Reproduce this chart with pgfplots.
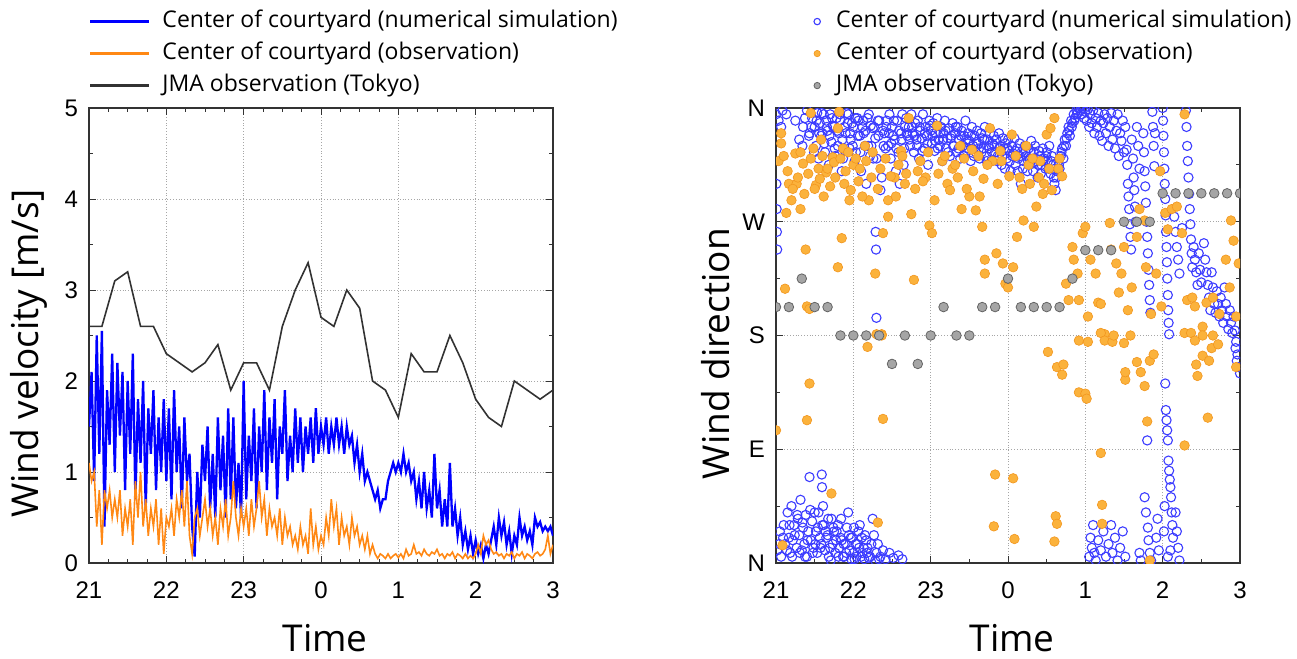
\documentclass[border=0pt]{standalone}
\usepackage{pgfplots}
\pgfplotsset{compat=1.18}
\usepackage{fontspec}
\setmainfont{Liberation Sans}
\newfontfamily\labelfont{Open Sans}

\definecolor{simblue}{RGB}{0,0,255}
\definecolor{obsorange}{RGB}{255,136,20}
\definecolor{jmagray}{RGB}{50,50,50}
\definecolor{dirblue}{RGB}{60,60,255}
\definecolor{dirorange}{RGB}{251,178,60}
\definecolor{dirorangeedge}{RGB}{242,150,30}
\definecolor{dirgray}{RGB}{165,165,165}
\definecolor{dirgrayedge}{RGB}{100,100,100}

\pgfplotsset{
  panel/.style={
    scale only axis, width=232pt, height=227.5pt, anchor=south west,
    xmin=0, xmax=360, xtick={0,60,...,360}, xticklabels={21,22,23,0,1,2,3},
    tick align=inside, major tick length=3.5pt, minor tick length=2pt,
    grid=major, major grid style={densely dotted, black!35, line width=0.5pt},
    axis line style={line width=0.7pt, black!80},
    every tick/.style={black!80, line width=0.5pt},
    /pgf/number format/assume math mode=true,
    tick label style={font=\fontsize{12}{12}\selectfont},
    xticklabel style={yshift=-6pt},
    yticklabel style={xshift=-2pt},
    xlabel={Time},
    every axis x label/.style={at={(axis description cs:0.509,-0.165)}, anchor=center,
      font=\labelfont\fontsize{18.5}{18.5}\selectfont},
    every axis y label/.style={at={(axis description cs:-0.13,0.46)}, rotate=90, anchor=center,
      font=\labelfont\fontsize{18.5}{18.5}\selectfont},
    legend style={draw=none, fill=none, anchor=north west, inner sep=0pt,
      font=\labelfont\fontsize{11.5}{11.5}\selectfont, row sep=5pt,
      nodes={inner sep=0pt, text height=8.5pt, text depth=2.5pt}},
    legend cell align=left,
  },
}

\begin{document}
\begin{tikzpicture}
\path[use as bounding box] (0,0) rectangle (648.5pt,329.5pt);

% left panel: wind velocity
\begin{axis}[panel, at={(44.5pt,48pt)},
  ymin=0, ymax=5, ytick={0,1,...,5}, minor x tick num=3, minor y tick num=1,
  ylabel={Wind velocity [m/s]},
  legend style={at={(axis description cs:0.0,1.215)}},
  legend image code/.code={\draw[#1, line width=1.1pt] (0pt,0pt) -- (29pt,0pt);
    \path[draw=none, fill=none] (0pt,0pt) -- (36pt,0pt);},
]
\addplot[simblue, line width=1.15pt] table[row sep=\\] {
x y\\
0 1.5\\ 2 2.1\\ 4 0.9\\ 6 2.5\\ 8 1.2\\ 10 2.55\\ 12 0.4\\ 14 1.9\\ 16 1.3\\ 18 2.3\\
20 1.0\\ 22 2.2\\ 24 1.4\\ 26 2.1\\ 28 0.8\\ 30 2.0\\ 32 1.2\\ 34 2.3\\ 36 0.7\\ 38 1.8\\
40 1.1\\ 42 2.0\\ 44 0.6\\ 46 1.7\\ 48 1.2\\ 50 1.9\\ 52 0.8\\ 54 1.6\\ 56 1.0\\ 58 1.8\\
60 0.9\\ 62 1.7\\ 64 0.7\\ 66 1.9\\ 68 1.0\\ 70 1.5\\ 72 0.6\\ 74 1.6\\ 76 0.9\\ 78 1.2\\
80 0.4\\ 82 0.07\\ 84 1.0\\ 86 0.5\\ 88 1.3\\ 90 0.9\\ 92 1.5\\ 94 0.6\\ 96 1.2\\ 98 0.5\\
100 1.6\\ 102 0.8\\ 104 1.4\\ 106 0.5\\ 108 1.7\\ 110 0.7\\ 112 1.6\\ 114 0.6\\ 116 1.1\\ 118 0.5\\
120 2.0\\ 122 0.7\\ 124 1.4\\ 126 0.9\\ 128 1.7\\ 130 0.6\\ 132 1.5\\ 134 1.0\\ 136 1.9\\ 138 0.8\\
140 1.6\\ 142 1.1\\ 144 1.8\\ 146 0.7\\ 148 1.5\\ 150 1.2\\ 152 1.9\\ 154 0.9\\ 156 1.4\\ 158 1.0\\
160 1.7\\ 162 1.1\\ 164 1.6\\ 166 1.0\\ 168 1.5\\ 170 1.2\\ 172 1.6\\ 174 1.1\\ 176 1.7\\ 178 1.2\\
180 1.5\\ 182 1.3\\ 184 1.6\\ 186 1.2\\ 188 1.5\\ 190 1.3\\ 192 1.6\\ 194 1.3\\ 196 1.5\\ 198 1.2\\
200 1.5\\ 202 1.3\\ 204 1.4\\ 206 1.1\\ 208 1.3\\ 210 1.0\\ 212 1.2\\ 214 0.9\\ 216 1.0\\ 218 0.9\\
220 0.8\\ 222 0.7\\ 224 0.8\\ 226 0.6\\ 228 0.7\\ 230 0.7\\ 232 0.9\\ 234 1.0\\ 236 1.1\\ 238 1.0\\
240 1.1\\ 242 1.0\\ 244 1.2\\ 246 1.0\\ 248 1.1\\ 250 0.9\\ 252 1.0\\ 254 0.7\\ 256 0.9\\ 258 0.6\\
260 1.0\\ 262 0.6\\ 264 0.8\\ 266 0.5\\ 268 1.2\\ 270 0.6\\ 272 0.8\\ 274 0.4\\ 276 0.7\\ 278 0.4\\
280 1.1\\ 282 0.4\\ 284 0.6\\ 286 0.3\\ 288 0.5\\ 290 0.2\\ 292 0.35\\ 294 0.15\\ 296 0.3\\ 298 0.1\\
300 0.25\\ 302 0.1\\ 304 0.2\\ 306 0.05\\ 308 0.2\\ 310 0.1\\ 312 0.25\\ 314 0.4\\ 316 0.2\\ 318 0.5\\
320 0.3\\ 322 0.45\\ 324 0.2\\ 326 0.35\\ 328 0.1\\ 330 0.3\\ 332 0.2\\ 334 0.5\\ 336 0.3\\ 338 0.4\\
340 0.25\\ 342 0.35\\ 344 0.2\\ 346 0.5\\ 348 0.4\\ 350 0.45\\ 352 0.35\\ 354 0.4\\ 356 0.35\\ 358 0.4\\
360 0.3\\
};
\addlegendentry{Center of courtyard (numerical simulation)}
\addplot[obsorange, line width=0.8pt] table[row sep=\\] {
x y\\
0 1.1\\ 2 0.9\\ 4 1.0\\ 6 0.4\\ 8 0.8\\ 10 0.2\\ 12 0.8\\ 14 0.6\\ 16 0.8\\ 18 0.5\\
20 0.7\\ 22 0.5\\ 24 0.8\\ 26 0.3\\ 28 0.6\\ 30 0.4\\ 32 0.7\\ 34 0.2\\ 36 0.9\\ 38 0.5\\
40 1.0\\ 42 0.4\\ 44 0.7\\ 46 0.3\\ 48 0.6\\ 50 0.4\\ 52 0.7\\ 54 0.2\\ 56 0.6\\ 58 0.1\\
60 0.5\\ 62 0.4\\ 64 0.6\\ 66 0.3\\ 68 0.7\\ 70 0.5\\ 72 0.8\\ 74 0.4\\ 76 0.9\\ 78 0.3\\
80 0.1\\ 82 0.5\\ 84 0.6\\ 86 0.3\\ 88 0.5\\ 90 0.7\\ 92 0.4\\ 94 0.6\\ 96 0.3\\ 98 0.5\\
100 0.2\\ 102 0.6\\ 104 0.4\\ 106 0.7\\ 108 0.3\\ 110 0.5\\ 112 0.9\\ 114 0.5\\ 116 0.3\\ 118 0.6\\
120 0.4\\ 122 0.6\\ 124 0.3\\ 126 0.7\\ 128 0.4\\ 130 0.6\\ 132 0.9\\ 134 0.5\\ 136 0.7\\ 138 0.3\\
140 0.6\\ 142 0.4\\ 144 0.5\\ 146 0.3\\ 148 0.6\\ 150 0.2\\ 152 0.5\\ 154 0.3\\ 156 0.4\\ 158 0.2\\
160 0.3\\ 162 0.15\\ 164 0.4\\ 166 0.2\\ 168 0.3\\ 170 0.1\\ 172 0.6\\ 174 0.2\\ 176 0.4\\ 178 0.15\\
180 0.3\\ 182 0.2\\ 184 0.5\\ 186 0.3\\ 188 0.7\\ 190 0.4\\ 192 0.6\\ 194 0.2\\ 196 0.5\\ 198 0.3\\
200 0.4\\ 202 0.2\\ 204 0.5\\ 206 0.3\\ 208 0.4\\ 210 0.2\\ 212 0.3\\ 214 0.15\\ 216 0.3\\ 218 0.1\\
220 0.2\\ 222 0.1\\ 224 0.05\\ 226 0.1\\ 228 0.08\\ 230 0.05\\ 232 0.1\\ 234 0.05\\ 236 0.08\\ 238 0.1\\
240 0.06\\ 242 0.1\\ 244 0.05\\ 246 0.15\\ 248 0.08\\ 250 0.1\\ 252 0.2\\ 254 0.1\\ 256 0.12\\ 258 0.08\\
260 0.15\\ 262 0.1\\ 264 0.08\\ 266 0.12\\ 268 0.1\\ 270 0.15\\ 272 0.08\\ 274 0.1\\ 276 0.05\\ 278 0.1\\
280 0.08\\ 282 0.12\\ 284 0.05\\ 286 0.1\\ 288 0.08\\ 290 0.05\\ 292 0.1\\ 294 0.05\\ 296 0.08\\ 298 0.05\\
300 0.1\\ 302 0.2\\ 304 0.1\\ 306 0.3\\ 308 0.2\\ 310 0.25\\ 312 0.15\\ 314 0.1\\ 316 0.12\\ 318 0.08\\
320 0.1\\ 322 0.05\\ 324 0.1\\ 326 0.08\\ 328 0.12\\ 330 0.05\\ 332 0.1\\ 334 0.08\\ 336 0.12\\ 338 0.05\\
340 0.1\\ 342 0.08\\ 344 0.05\\ 346 0.1\\ 348 0.12\\ 350 0.08\\ 352 0.1\\ 354 0.15\\ 356 0.3\\ 358 0.1\\
360 0.2\\
};
\addlegendentry{Center of courtyard (observation)}
\addplot[jmagray, line width=0.8pt] table[row sep=\\] {
x y\\
0 2.6\\ 10 2.6\\ 20 3.1\\ 30 3.2\\ 40 2.6\\ 50 2.6\\ 60 2.3\\ 70 2.2\\ 80 2.1\\ 90 2.2\\
100 2.4\\ 110 1.9\\ 120 2.2\\ 130 2.2\\ 140 1.9\\ 150 2.6\\ 160 3.0\\ 170 3.3\\ 180 2.7\\ 190 2.6\\
200 3.0\\ 210 2.8\\ 220 2.0\\ 230 1.9\\ 240 1.6\\ 250 2.3\\ 260 2.1\\ 270 2.1\\ 280 2.5\\ 290 2.2\\
300 1.8\\ 310 1.6\\ 320 1.5\\ 330 2.0\\ 340 1.9\\ 350 1.8\\ 360 1.9\\
};
\addlegendentry{JMA observation (Tokyo)}
\end{axis}

% right panel: wind direction
\begin{axis}[panel, at={(388pt,48pt)},
  ymin=0, ymax=360, ytick={0,90,180,270,360}, yticklabels={N,E,S,W,N},
  minor x tick num=1, minor y tick num=1,
  ylabel={Wind direction},
  clip marker paths=true,
  legend style={at={(axis description cs:0.075,1.215)}},
  legend image code/.code={\draw[#1, mark size=1.6pt] plot coordinates {(3pt,0pt)};
    \path[draw=none, fill=none] (0pt,0pt) -- (12.5pt,0pt);},
]
\addplot[only marks, mark=o, mark size=2.3pt, dirblue, mark options={line width=0.55pt}] table[row sep=\\] {
x y\\
0 355\\ 0.3 300\\ 0.5 280\\ 0.7 262\\ 0.9 248\\ 2 350\\ 4 345\\ 5 358\\ 8 355\\ 15 350\\
18 335\\ 21 345\\ 24 358\\ 26 340\\ 28 352\\ 30 345\\ 31 330\\ 32 356\\ 33 320\\ 34 348\\
35 338\\ 36 340\\ 37 355\\ 38 325\\ 39 350\\ 40 342\\ 41 315\\ 42 355\\ 43 333\\ 44 346\\
45 345\\ 46 322\\ 47 352\\ 48 330\\ 49 340\\ 50 350\\ 51 310\\ 52 320\\ 53 345\\ 54 340\\
55 356\\ 56 355\\ 57 328\\ 58 335\\ 59 348\\ 60 345\\ 61 318\\ 62 325\\ 63 352\\ 64 350\\
65 338\\ 66 310\\ 67 345\\ 68 340\\ 69 330\\ 70 300\\ 71 352\\ 72 355\\ 73 322\\ 74 330\\
75 344\\ 76 345\\ 77 336\\ 77.3 262\\ 77.6 248\\ 77.9 194\\ 78 320\\ 79 350\\ 80 350\\ 81 295\\
82 305\\ 83 342\\ 84 340\\ 85 328\\ 86 350\\ 87 330\\ 88 355\\ 89 320\\ 90 345\\ 91 338\\
92 335\\ 93 310\\ 94 350\\ 95 325\\ 96 300\\ 97 340\\ 98 355\\ 99 315\\ 100 345\\
20.5 330\\ 22.5 352\\ 25.5 338\\ 27.5 345\\ 29.5 325\\ 31.5 350\\ 33.5 340\\ 35.5 356\\ 37.5 332\\ 39.5 345\\
41.5 338\\ 43.5 352\\ 45.5 328\\ 47.5 342\\ 49.5 355\\ 51.5 335\\ 53.5 326\\ 55.5 348\\ 57.5 340\\ 59.5 330\\
61.5 352\\ 63.5 338\\ 65.5 325\\ 67.5 350\\ 69.5 342\\ 71.5 330\\ 73.5 346\\ 75.5 320\\ 79.5 338\\ 83.5 330\\
85.5 345\\ 87.5 340\\ 89.5 332\\ 91.5 350\\ 93.5 328\\ 95.5 342\\ 97.5 335\\ 99.5 328\\
1 10\\ 3 25\\ 4 5\\ 6 30\\ 7 15\\ 9 40\\ 10 20\\ 11 8\\ 12 45\\ 13 18\\
14 30\\ 16 12\\ 17 35\\ 18 22\\ 19 50\\ 20 10\\ 21 28\\ 22 15\\ 23 38\\ 24 5\\
25 25\\ 26 68\\ 27 18\\ 28 33\\ 29 12\\ 30 40\\ 31 25\\ 32 8\\ 33 40\\ 34 20\\
35 15\\ 35.5 70\\ 35.7 60\\ 36 30\\ 37 30\\ 38 10\\ 39 20\\ 40 22\\ 41 5\\ 42 12\\
43 35\\ 44 15\\ 45 25\\ 46 8\\ 47 25\\ 48 30\\ 49 12\\ 50 20\\ 51 18\\ 52 5\\
53 5\\ 54 15\\ 55 28\\ 56 40\\ 57 10\\ 58 20\\ 59 20\\ 60 8\\ 61 3\\ 62 15\\
63 15\\ 64 25\\ 65 30\\ 66 5\\ 67 8\\ 68 12\\ 69 22\\ 70 18\\ 71 12\\ 72 4\\
73 5\\ 75 35\\ 77 2\\ 79 15\\ 81 5\\ 83 10\\ 85 3\\ 88 8\\ 91 4\\ 95 6\\ 98 3\\
2.5 15\\ 5.5 20\\ 8.5 10\\ 10.5 30\\ 12.5 5\\ 14.5 22\\ 16.5 38\\ 18.5 8\\ 20.5 32\\ 22.5 5\\
24.5 18\\ 26.5 42\\ 28.5 8\\ 30.5 15\\ 32.5 28\\ 34.5 12\\ 36.5 45\\ 38.5 25\\ 40.5 35\\ 42.5 2\\
44.5 28\\ 46.5 18\\ 48.5 5\\ 50.5 35\\ 52.5 15\\ 54.5 8\\ 56.5 22\\ 58.5 3\\ 60.5 28\\ 62.5 5\\
64.5 12\\ 66.5 20\\ 68.5 3\\ 70.5 8\\ 74 15\\ 76 22\\ 78 8\\ 80 3\\
101 352\\ 102 338\\ 103 345\\ 104 330\\ 105 355\\ 106 340\\ 107 325\\ 108 348\\ 109 335\\ 110 350\\
111 320\\ 112 342\\ 113 336\\ 114 355\\ 115 328\\ 116 345\\ 117 338\\ 118 315\\ 119 350\\ 120 342\\
121 332\\ 122 348\\ 123 326\\ 124 340\\ 125 352\\ 126 335\\ 127 330\\ 128 345\\ 129 318\\ 130 340\\
131 350\\ 132 328\\ 133 336\\ 134 344\\ 135 322\\ 136 338\\ 137 348\\ 138 330\\ 139 340\\ 140 325\\
141 345\\ 142 335\\ 143 320\\ 144 342\\ 145 330\\ 146 338\\ 147 350\\ 148 326\\ 149 340\\ 150 334\\
151 318\\ 152 345\\ 153 330\\ 154 338\\ 155 325\\ 156 342\\ 157 332\\ 158 320\\ 159 340\\ 160 336\\
161 328\\ 162 345\\ 163 322\\ 164 335\\ 165 330\\ 166 340\\ 167 318\\ 168 332\\ 169 338\\ 170 325\\
171 335\\ 172 322\\ 173 340\\ 174 330\\ 175 315\\ 176 336\\ 177 328\\ 178 332\\ 179 320\\ 180 335\\
181 326\\ 182 310\\ 183 330\\ 184 324\\ 185 336\\ 186 315\\ 187 328\\ 188 320\\ 189 332\\ 190 300\\
191 326\\ 192 318\\ 193 330\\ 194 322\\ 195 310\\ 196 328\\ 197 320\\ 198 334\\ 199 316\\ 200 325\\
201 330\\ 202 318\\ 203 305\\ 204 326\\ 205 322\\ 206 315\\ 207 328\\ 208 320\\ 209 312\\ 210 325\\
211 318\\ 212 330\\ 213 308\\ 214 322\\ 215 315\\ 216 300\\ 217 295\\ 218 310\\ 219 318\\ 220 312\\
221 322\\ 222 328\\ 223 320\\ 224 335\\ 225 330\\ 226 340\\ 227 345\\ 228 338\\ 229 350\\ 230 348\\
231 355\\ 232 352\\ 233 358\\ 234 356\\ 235 360\\
101.5 340\\ 103.5 335\\ 105.5 345\\ 107.5 338\\ 109.5 330\\ 111.5 345\\ 113.5 326\\ 115.5 340\\ 117.5 332\\ 119.5 346\\
121.5 338\\ 123.5 334\\ 125.5 328\\ 127.5 340\\ 129.5 335\\ 131.5 342\\ 133.5 325\\ 135.5 336\\ 137.5 330\\ 139.5 345\\
141.5 328\\ 143.5 338\\ 145.5 322\\ 147.5 335\\ 149.5 328\\ 151.5 338\\ 153.5 322\\ 155.5 333\\ 157.5 328\\ 159.5 325\\
161.5 335\\ 163.5 318\\ 165.5 328\\ 167.5 325\\ 169.5 330\\ 171.5 318\\ 173.5 328\\ 175.5 322\\ 177.5 312\\ 179.5 328\\
181.5 318\\ 183.5 322\\ 185.5 326\\ 187.5 310\\ 189.5 322\\ 191.5 312\\ 193.5 325\\ 195.5 318\\ 197.5 326\\ 199.5 310\\
201.5 320\\ 203.5 315\\ 205.5 308\\ 207.5 318\\ 209.5 322\\ 211.5 312\\ 213.5 318\\ 215.5 305\\ 217.5 305\\ 219.5 315\\
221.5 325\\ 223.5 330\\ 225.5 336\\ 227.5 342\\ 229.5 345\\ 231.5 350\\ 233.5 355\\
236 358\\ 237 355\\ 238 360\\ 239 352\\ 240 357\\ 241 350\\ 242 359\\ 243 345\\ 244 355\\ 245 348\\
246 358\\ 247 340\\ 248 352\\ 249 345\\ 250 356\\ 251 338\\ 252 350\\ 253 334\\ 254 348\\ 255 355\\
256 340\\ 257 352\\ 258 330\\ 259 345\\ 260 356\\ 261 335\\ 262 350\\ 263 328\\ 264 342\\ 265 355\\
266 322\\ 267 340\\ 268 334\\ 269 350\\ 270 325\\ 271 345\\
272 327\\ 272.5 315\\ 273 300\\ 273.5 290\\ 274 280\\ 274.5 268\\ 275 258\\ 275.5 248\\ 276 335\\ 277 320\\
277.5 305\\ 278 295\\ 278.5 282\\ 279 270\\ 280 345\\ 281 330\\ 282 312\\
243 5\\ 244 20\\ 245 12\\ 246 30\\ 247 8\\ 248 2\\ 250 18\\ 252 10\\ 254 25\\ 256 5\\
258 15\\ 260 30\\ 261 8\\ 263 20\\ 265 2\\ 267 12\\ 269 25\\ 271 5\\ 282 8\\ 283 2\\
285 340\\ 285.5 325\\ 286 310\\ 286.5 298\\ 287 285\\ 287.5 270\\ 288 258\\ 288.5 245\\ 289 232\\ 289.5 220\\
290 208\\ 290.5 198\\ 288 97\\ 286 52\\ 287 40\\ 288.5 28\\ 289 18\\ 290 8\\ 291 2\\ 292 357\\
292.5 345\\ 293 330\\ 293.5 314\\ 294 340\\ 295 20\\ 296 35\\ 297 10\\
300 360\\ 300.3 350\\ 300.6 338\\ 301 325\\ 301.3 312\\ 301.6 300\\ 302 288\\ 302.3 275\\ 302.6 262\\ 303 250\\
303.3 238\\ 303.6 225\\ 304 212\\ 304.3 200\\ 304.6 190\\ 305 181\\ 302 142\\ 302.5 121\\ 303 113\\ 303.5 105\\
304 97\\ 304.5 81\\ 305 73\\ 305.5 66\\ 306 60\\ 306.5 52\\ 307 40\\ 307.5 30\\ 308 20\\ 306 10\\
304 5\\ 301 25\\ 301.5 45\\
309 274\\ 310 262\\ 311 250\\ 312 240\\ 313 229\\ 310 40\\ 311 25\\ 312 12\\ 313 2\\ 315 265\\
318 358\\ 318.5 345\\ 319 330\\ 319.5 318\\ 320 305\\ 320.5 292\\ 321 280\\ 321.5 268\\ 322 256\\ 322.5 245\\
323 234\\ 324 250\\ 325 240\\ 326 230\\ 327 220\\ 328 245\\ 329 232\\ 330 222\\
332 253\\ 333 240\\ 334 230\\ 335 220\\ 336 210\\ 337 200\\ 338 230\\ 339 218\\ 340 205\\ 341 198\\
342 215\\ 343 205\\ 344 195\\ 345 210\\ 346 200\\ 347 190\\ 348 218\\ 349 205\\ 350 195\\ 351 185\\
352 200\\ 353 190\\ 354 182\\ 355 195\\ 356 184\\ 357 175\\ 358 165\\ 359 155\\ 360 150\\ 356.5 170\\
357.5 160\\
};
\addlegendentry{Center of courtyard (numerical simulation)}
\addplot[only marks, mark=*, mark size=2.4pt, draw=dirorangeedge, fill=dirorange, mark options={line width=0.3pt}] table[row sep=\\] {
x y\\
4 340\\ 4 332\\ 8 277\\ 12 287\\ 7 217\\ 10 300\\ 15 324\\ 16 300\\ 19 280\\ 19 325\\
23 248\\ 24 203\\ 26 201\\ 29 328\\ 31 299\\ 33 312\\ 35 335\\ 39 309\\ 44 321\\ 48 344\\
48 234\\ 49 357\\ 51 257\\ 52 328\\ 53 300\\ 57 287\\ 60 315\\ 64 302\\ 69 330\\ 72 287\\
75 325\\ 77 229\\ 78 181\\ 82 181\\ 83 261\\ 87 274\\ 87 287\\ 92 305\\ 97 326\\ 100 300\\
103 352\\ 105 276\\ 107 224\\ 110 310\\ 116 305\\ 119 267\\ 121 261\\ 123 287\\ 125 346\\ 129 318\\
133 300\\ 137 312\\ 143 330\\ 144 280\\ 150 290\\ 152 327\\ 155 279\\ 158 290\\ 160 266\\ 162 240\\
162 229\\ 166 344\\ 168 318\\ 171 245\\ 174 326\\ 176 237\\ 178 221\\ 180 218\\ 183 339\\ 184 234\\
187 258\\ 189 305\\ 192 271\\ 194 330\\ 197 300\\ 200 266\\ 202 282\\ 205 318\\ 207 292\\ 210 339\\
213 344\\ 216 352\\ 219 312\\ 225 221\\ 227 208\\ 230 250\\ 231 240\\ 234 229\\ 235 208\\ 238 261\\
240 266\\ 242 195\\ 244 240\\ 248 229\\ 250 206\\ 252 205\\ 255 181\\ 259 269\\ 260 248\\ 264 237\\
266 214\\ 268 229\\ 270 250\\ 273 200\\ 276 218\\ 280 258\\ 282 280\\ 286 271\\ 287 234\\ 291 197\\
295 229\\ 298 310\\ 299 203\\ 302 277\\ 304 264\\ 307 280\\ 311 282\\ 315 261\\ 317 355\\ 319 208\\
323 210\\ 325 203\\ 331 187\\ 334 206\\ 339 210\\ 344 197\\ 349 240\\ 352 218\\ 353 271\\ 355 255\\
357 195\\ 359 237\\
0 105\\ 5 14\\ 24 113\\ 26 142\\ 43 55\\ 71 171\\ 79 32\\ 83 114\\ 82 180\\ 169 29\\
170 70\\ 184 67\\ 185 19\\ 211 167\\ 217 37\\ 218 155\\ 222 149\\ 218 31\\ 216 17\\ 223 157\\
235 135\\ 240 134\\ 241 130\\ 235 176\\ 242 175\\ 252 87\\ 253 46\\ 253 31\\ 252 182\\ 255 176\\
261 175\\ 262 180\\ 270 174\\ 271 145\\ 271 151\\ 275 180\\ 280 159\\ 283 151\\ 286 140\\ 288 112\\
290 160\\ 293 165\\ 290 2\\ 317 93\\ 317 182\\ 322 182\\ 325 176\\ 327 148\\ 326 157\\ 331 180\\
331 164\\ 335 115\\ 336 160\\ 338 170\\ 339 180\\ 343 173\\ 357 155\\
2 318\\ 6 322\\ 9 310\\ 13 296\\ 17 305\\ 21 316\\ 22 292\\ 25 308\\ 27 320\\ 27 356\\
30 296\\ 34 304\\ 36 322\\ 37 290\\ 40 312\\ 42 298\\ 45 317\\ 46 305\\ 50 320\\ 54 310\\
56 325\\ 58 295\\ 62 320\\ 65 312\\ 67 290\\ 70 318\\ 74 305\\ 79 296\\ 81 312\\ 85 320\\
89 306\\ 93 290\\ 95 315\\ 98 322\\ 101 308\\ 108 296\\ 112 318\\ 114 302\\ 118 325\\ 126 308\\
131 322\\ 135 295\\ 139 315\\ 141 305\\ 146 320\\ 148 296\\ 153 310\\ 157 322\\ 161 304\\ 164 315\\
172 300\\ 175 318\\ 181 306\\ 186 322\\ 191 296\\ 196 315\\ 199 320\\ 204 305\\ 208 300\\ 212 312\\
214 295\\ 220 320\\ 222 306\\
};
\addlegendentry{Center of courtyard (observation)}
\addplot[only marks, mark=*, mark size=2.4pt, draw=dirgrayedge, fill=dirgray, mark options={line width=0.4pt}] table[row sep=\\] {
x y\\
0 202.5\\ 10 202.5\\ 20 225\\ 30 202.5\\ 40 202.5\\ 50 180\\ 60 180\\ 70 180\\ 80 180\\ 90 157.5\\
100 180\\ 110 157.5\\ 120 180\\ 130 202.5\\ 140 180\\ 150 180\\ 160 202.5\\ 170 202.5\\ 180 225\\ 190 202.5\\
200 202.5\\ 210 202.5\\ 220 202.5\\ 230 225\\ 240 247.5\\ 250 247.5\\ 260 247.5\\ 270 270\\ 280 270\\ 290 270\\
300 292.5\\ 310 292.5\\ 320 292.5\\ 330 292.5\\ 340 292.5\\ 350 292.5\\ 360 292.5\\
};
\addlegendentry{JMA observation (Tokyo)}
\end{axis}
\end{tikzpicture}
\end{document}
